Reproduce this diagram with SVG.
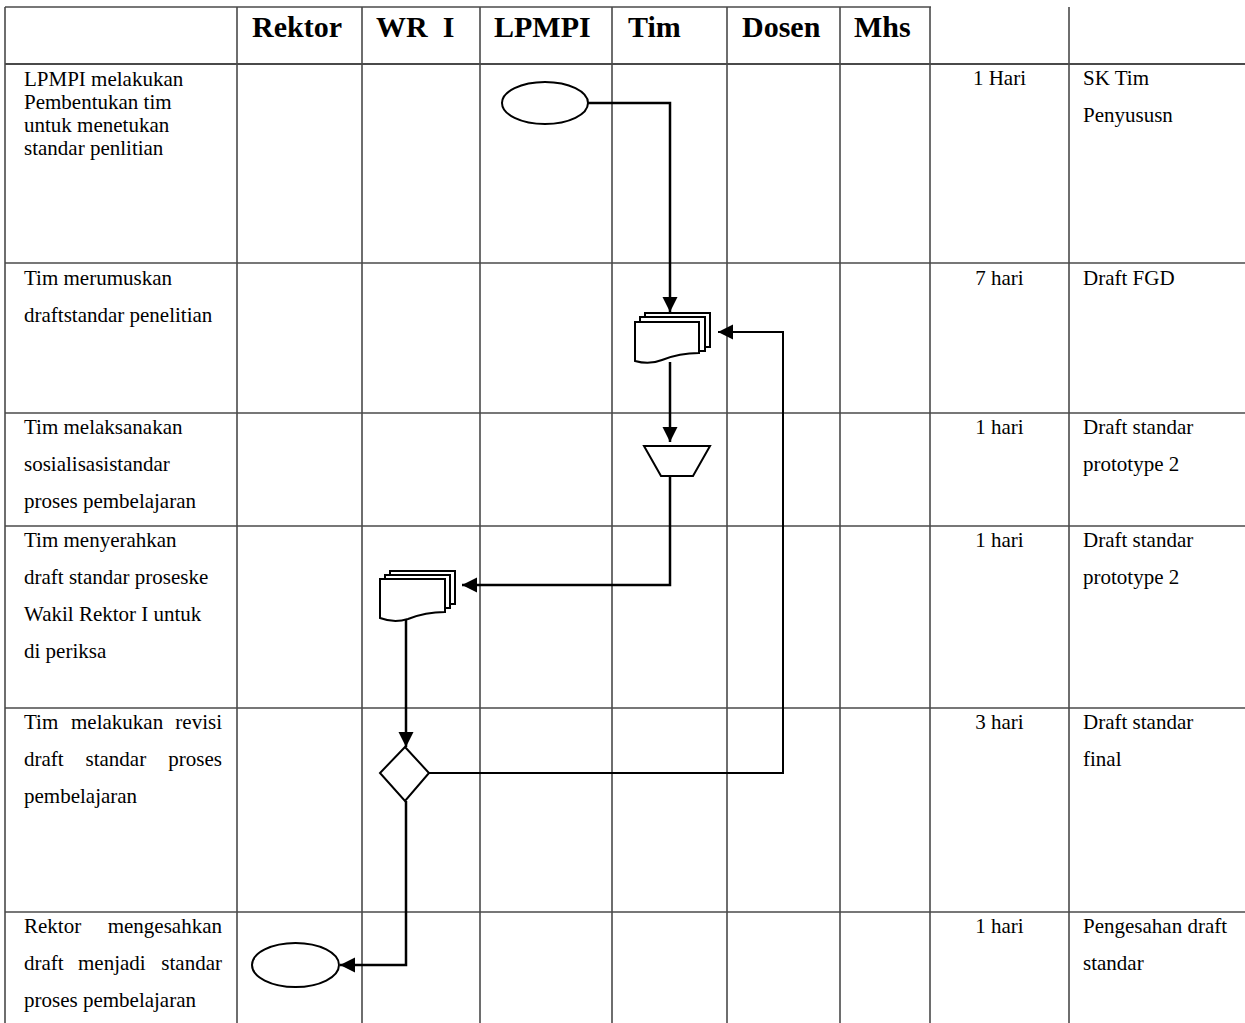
<svg xmlns="http://www.w3.org/2000/svg" width="1245" height="1023" viewBox="0 0 1245 1023">
<style>
.grid{stroke:#4a4a4a;stroke-width:1.6;fill:none}
.hd{font-family:"Liberation Serif",serif;font-weight:bold;font-size:30px;fill:#000}
.tx{font-family:"Liberation Serif",serif;font-size:21px;fill:#000}
.c{text-anchor:middle}
.e{text-anchor:end}
.shape{fill:#fff;stroke:#000;stroke-width:2}
.conn{fill:none;stroke:#000;stroke-width:2.5}
.thin{fill:none;stroke:#000;stroke-width:2}
</style>
<defs>
<marker id="ah" markerUnits="userSpaceOnUse" markerWidth="16" markerHeight="16" refX="15" refY="7.5" orient="auto">
<path d="M0,0 L15,7.5 L0,15 z" fill="#000"/>
</marker>
</defs>
<rect width="1245" height="1023" fill="#fff"/>
<g id="table" class="grid">
<line x1="5" y1="7" x2="931" y2="7"/>
<line x1="5" y1="64" x2="1245" y2="64" stroke-width="2.2"/>
<line x1="5" y1="263" x2="1245" y2="263"/>
<line x1="5" y1="413" x2="1245" y2="413"/>
<line x1="5" y1="526" x2="1245" y2="526"/>
<line x1="5" y1="708" x2="1245" y2="708"/>
<line x1="5" y1="912" x2="1245" y2="912"/>
<line x1="5" y1="7" x2="5" y2="1023"/>
<line x1="237" y1="7" x2="237" y2="1023"/>
<line x1="362" y1="7" x2="362" y2="1023"/>
<line x1="480" y1="7" x2="480" y2="1023"/>
<line x1="612" y1="7" x2="612" y2="1023"/>
<line x1="727" y1="7" x2="727" y2="1023"/>
<line x1="840" y1="7" x2="840" y2="1023"/>
<line x1="930" y1="7" x2="930" y2="1023"/>
<line x1="1069" y1="7" x2="1069" y2="1023"/>
</g>
<g id="header">
<text class="hd" x="252" y="37">Rektor</text>
<text class="hd" x="376" y="37" xml:space="preserve">WR  I</text>
<text class="hd" x="494" y="37">LPMPI</text>
<text class="hd" x="628" y="37">Tim</text>
<text class="hd" x="742" y="37">Dosen</text>
<text class="hd" x="854" y="37">Mhs</text>
</g>
<g id="row1-text">
<text class="tx" x="24" y="86">LPMPI melakukan</text>
<text class="tx" x="24" y="109">Pembentukan tim</text>
<text class="tx" x="24" y="132">untuk menetukan</text>
<text class="tx" x="24" y="155">standar penlitian</text>
<text class="tx c" x="999.5" y="85">1 Hari</text>
<text class="tx" x="1083" y="85">SK Tim</text>
<text class="tx" x="1083" y="122">Penyususn</text>
</g>
<g id="row2-text">
<text class="tx" x="24" y="285">Tim merumuskan</text>
<text class="tx" x="24" y="322">draftstandar penelitian</text>
<text class="tx c" x="999.5" y="285">7 hari</text>
<text class="tx" x="1083" y="285">Draft FGD</text>
</g>
<g id="row3-text">
<text class="tx" x="24" y="434">Tim melaksanakan</text>
<text class="tx" x="24" y="471">sosialisasistandar</text>
<text class="tx" x="24" y="508">proses pembelajaran</text>
<text class="tx c" x="999.5" y="434">1 hari</text>
<text class="tx" x="1083" y="434">Draft standar</text>
<text class="tx" x="1083" y="471">prototype 2</text>
</g>
<g id="row4-text">
<text class="tx" x="24" y="547">Tim menyerahkan</text>
<text class="tx" x="24" y="584">draft standar proseske</text>
<text class="tx" x="24" y="621">Wakil Rektor I untuk</text>
<text class="tx" x="24" y="658">di periksa</text>
<text class="tx c" x="999.5" y="547">1 hari</text>
<text class="tx" x="1083" y="547">Draft standar</text>
<text class="tx" x="1083" y="584">prototype 2</text>
</g>
<g id="row5-text">
<text class="tx" x="24" y="729">Tim</text>
<text class="tx" x="71" y="729">melakukan</text>
<text class="tx e" x="222" y="729">revisi</text>
<text class="tx" x="24" y="766">draft</text>
<text class="tx" x="85.5" y="766">standar</text>
<text class="tx e" x="222" y="766">proses</text>
<text class="tx" x="24" y="803">pembelajaran</text>
<text class="tx c" x="999.5" y="729">3 hari</text>
<text class="tx" x="1083" y="729">Draft standar</text>
<text class="tx" x="1083" y="766">final</text>
</g>
<g id="row6-text">
<text class="tx" x="24" y="933">Rektor</text>
<text class="tx e" x="222" y="933">mengesahkan</text>
<text class="tx" x="24" y="970">draft</text>
<text class="tx" x="78" y="970">menjadi</text>
<text class="tx e" x="222" y="970">standar</text>
<text class="tx" x="24" y="1007">proses pembelajaran</text>
<text class="tx c" x="999.5" y="933">1 hari</text>
<text class="tx" x="1083" y="933">Pengesahan draft</text>
<text class="tx" x="1083" y="970">standar</text>
</g>
<g id="connectors">
<path class="conn" d="M588,103 H670 V312" marker-end="url(#ah)"/>
<path class="conn" d="M670,362 V442" marker-end="url(#ah)"/>
<path class="conn" d="M670,476 V585 H462" marker-end="url(#ah)"/>
<path class="conn" d="M406,620 V747" marker-end="url(#ah)"/>
<path class="thin" d="M429,773 H783 V332 H718" marker-end="url(#ah)"/>
<path class="conn" d="M406,801 V965 H340" marker-end="url(#ah)"/>
</g>
<g id="start">
<ellipse class="shape" cx="545" cy="103" rx="43" ry="21"/>
</g>
<g id="doc-tim">
<rect class="shape" x="645" y="313" width="65" height="34"/>
<rect class="shape" x="640" y="317" width="65" height="34"/>
<path class="shape" d="M635,322 H699 V353 C682,353 672,356 662,360 C652,364 642,363 635,361 Z"/>
</g>
<g id="trapezoid">
<path class="shape" d="M644,446 H710 L693,476 H661 Z"/>
</g>
<g id="doc-wr">
<rect class="shape" x="390" y="571" width="65" height="33"/>
<rect class="shape" x="385" y="575" width="65" height="33"/>
<path class="shape" d="M380,579 H445 V612 C428,612 418,615 408,619 C398,622 388,621 380,618 Z"/>
</g>
<g id="decision">
<path class="shape" d="M405,747 L429,773 L405,801 L380,773 Z"/>
</g>
<g id="end">
<ellipse class="shape" cx="295.5" cy="965" rx="43.5" ry="22"/>
</g>
</svg>
